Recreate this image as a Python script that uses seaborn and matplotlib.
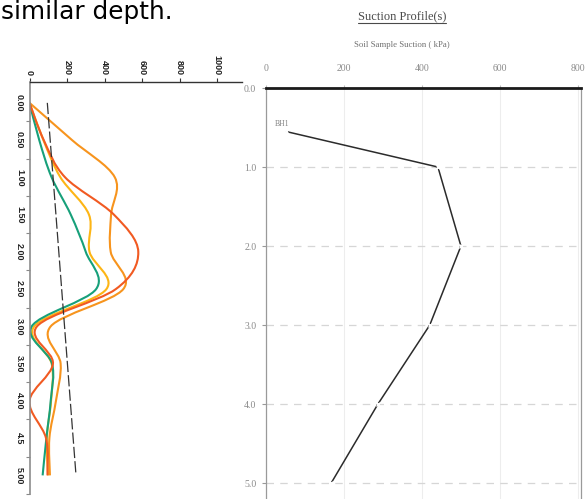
import numpy as np
import matplotlib
matplotlib.use('Agg')
import matplotlib.pyplot as plt
from matplotlib.path import Path
from matplotlib.patches import PathPatch
from matplotlib.lines import Line2D
import seaborn as sns

# Left chart: suction profiles (Excel smoothed lines, chart turned on its side)
depth_cats = [0.0, 0.5, 1.0, 1.5, 2.0, 2.5, 3.0, 3.5, 4.0, 4.5, 5.0]
depth_labels = ['0.00', '0.50', '1.00', '1.50', '2.00', '2.50', '3.00', '3.50', '4.00', '4.5', '5.00']
suction_orange = [0, 227, 455, 435, 433, 500, 113, 166, 141, 106, 109]
suction_red = [0, 76, 190, 450, 580, 460, 40, 125, 0, 88, 96]
suction_yellow = [0, 74, 165, 317, 320, 410, 25, 118, 115, 92, 99]
suction_green = [0, 52, 118, 220, 300, 355, 12, 120, 113, 90, 70]
trend_depth = [0.0, 5.0]
trend_suction = [95, 248]
suction_ticks = [0, 200, 400, 600, 800, 1000]

# Right chart: BH1 suction profile
bh1_depth = [0.55, 1.0, 2.0, 3.0, 4.0, 5.0]
bh1_suction = [51, 441, 500, 420, 287, 167]
bh1_depth_ticks = [0, 1, 2, 3, 4, 5]
bh1_depth_labels = ['0.0', '1.0', '2.0', '3.0', '4.0', '5.0']
bh1_suction_ticks = [0, 200, 400, 600, 800]

sns.set_style('white')
scan_font = 'Liberation Serif'

W, H = 587, 499
fig = plt.figure(figsize=(W / 100, H / 100), dpi=100)


def px_axes(left, top, right, bottom):
    return fig.add_axes([left / W, 1 - bottom / H, (right - left) / W, (bottom - top) / H])


def smooth_path(x, y):
    # Bezier path through the points, same idea as Excel's "smoothed line"
    pts = np.column_stack([x, y]).astype(float)
    n = len(pts)
    verts = [pts[0]]
    codes = [Path.MOVETO]
    for i in range(n - 1):
        p0 = pts[max(i - 1, 0)]
        p1 = pts[i]
        p2 = pts[i + 1]
        p3 = pts[min(i + 2, n - 1)]
        verts += [p1 + (p2 - p0) / 6, p2 - (p3 - p1) / 6, p2]
        codes += [Path.CURVE4] * 3
    return Path(verts, codes)


# ---- left chart
ax1 = px_axes(29.5, 82, 242, 494)
series = [(suction_orange, '#F7941D'), (suction_yellow, '#FDB515'),
          (suction_green, '#17A07A'), (suction_red, '#F15A22')]
for vals, col in series:
    ax1.add_patch(PathPatch(smooth_path(vals, depth_cats), fill=False, ec=col, lw=1.5))

sns.lineplot(x=trend_suction, y=trend_depth, sort=False, estimator=None,
             color='#333333', lw=0.9, ax=ax1)
ax1.lines[-1].set_dashes((9, 2.5))

ax1.set_xlim(0, 1133)
ax1.set_ylim(5.25, -0.28)
ax1.xaxis.tick_top()
ax1.set_xticks(suction_ticks)
ax1.set_xticklabels([str(t) for t in suction_ticks], rotation=-90, fontsize=6.5,
                    fontweight='bold', family='Liberation Sans', color='#222222')
ax1.set_yticks(depth_cats)
ax1.set_yticklabels(depth_labels, rotation=-90, va='center', fontsize=6.5,
                    fontweight='bold', family='Liberation Sans', color='#222222')
ax1.set_yticks([0.25 + 0.5 * k for k in range(10)] + [5.25], minor=True)
ax1.tick_params(axis='x', which='major', top=True, length=3, width=0.8, color='#333333', pad=2)
ax1.tick_params(axis='y', which='major', left=False, length=0, pad=4)
ax1.tick_params(axis='y', which='minor', left=True, length=3, width=0.8, color='#888888')
for s in ['right', 'bottom']:
    ax1.spines[s].set_visible(False)
ax1.spines['top'].set_color('#333333')
ax1.spines['top'].set_linewidth(1.0)
ax1.spines['left'].set_color('#8c8c8c')
ax1.spines['left'].set_linewidth(1.2)
ax1.set_xlabel('')
ax1.set_ylabel('')

# ---- right chart
ax2 = px_axes(266, 88, 581, 499)
sns.lineplot(x=bh1_suction, y=bh1_depth, sort=False, estimator=None, color='#2b2b2b',
             lw=1.1, marker='x', markersize=3.5, markeredgewidth=1.0, ax=ax2)
ax2.set_xlim(0, 808)
ax2.set_ylim(5.2, 0)
ax2.xaxis.tick_top()
ax2.set_xticks(bh1_suction_ticks)
ax2.set_xticklabels([str(t) for t in bh1_suction_ticks], fontsize=7, color='#8a8a8a', family=scan_font)
ax2.set_yticks(bh1_depth_ticks)
ax2.set_yticklabels(bh1_depth_labels, fontsize=7, color='#8a8a8a', family=scan_font)
ax2.tick_params(axis='x', top=True, length=2, color='#bbbbbb', pad=9)
ax2.tick_params(axis='y', left=True, length=3, color='#999999', pad=4)
ax2.grid(True, axis='y', color='#d6d6d6', lw=0.9, ls=(0, (6, 5)))
ax2.grid(True, axis='x', color='#ededed', lw=0.8)
ax2.spines['top'].set_color('#1a1a1a')
ax2.spines['top'].set_linewidth(2.0)
for s in ['left', 'right']:
    ax2.spines[s].set_color('#9a9a9a')
    ax2.spines[s].set_linewidth(0.9)
ax2.spines['bottom'].set_visible(False)
ax2.text(23, 0.45, 'BH1', fontsize=5.5, color='#808080', va='center', family=scan_font)
ax2.set_xlabel('')
ax2.set_ylabel('')

# ---- texts
fig.text(1 / W, 1 - 19.5 / H, 'similar depth.', va='baseline', ha='left',
         fontsize=17.8, family='DejaVu Sans', color='black')
title = fig.text(402 / W, 1 - 16 / H, 'Suction Profile(s)', ha='center', va='center',
                 fontsize=9, color='#4a4a4a', family=scan_font)
fig.text(402 / W, 1 - 45 / H, 'Soil Sample Suction ( kPa)', ha='center', va='center',
         fontsize=6.3, color='#707070', family=scan_font)

fig.canvas.draw()
bb = title.get_window_extent().transformed(fig.transFigure.inverted())
fig.add_artist(Line2D([bb.x0, bb.x1], [bb.y0 - 0.5 / H] * 2, transform=fig.transFigure,
                      color='#4a4a4a', lw=0.8))

fig.savefig('out.png', dpi=100)
